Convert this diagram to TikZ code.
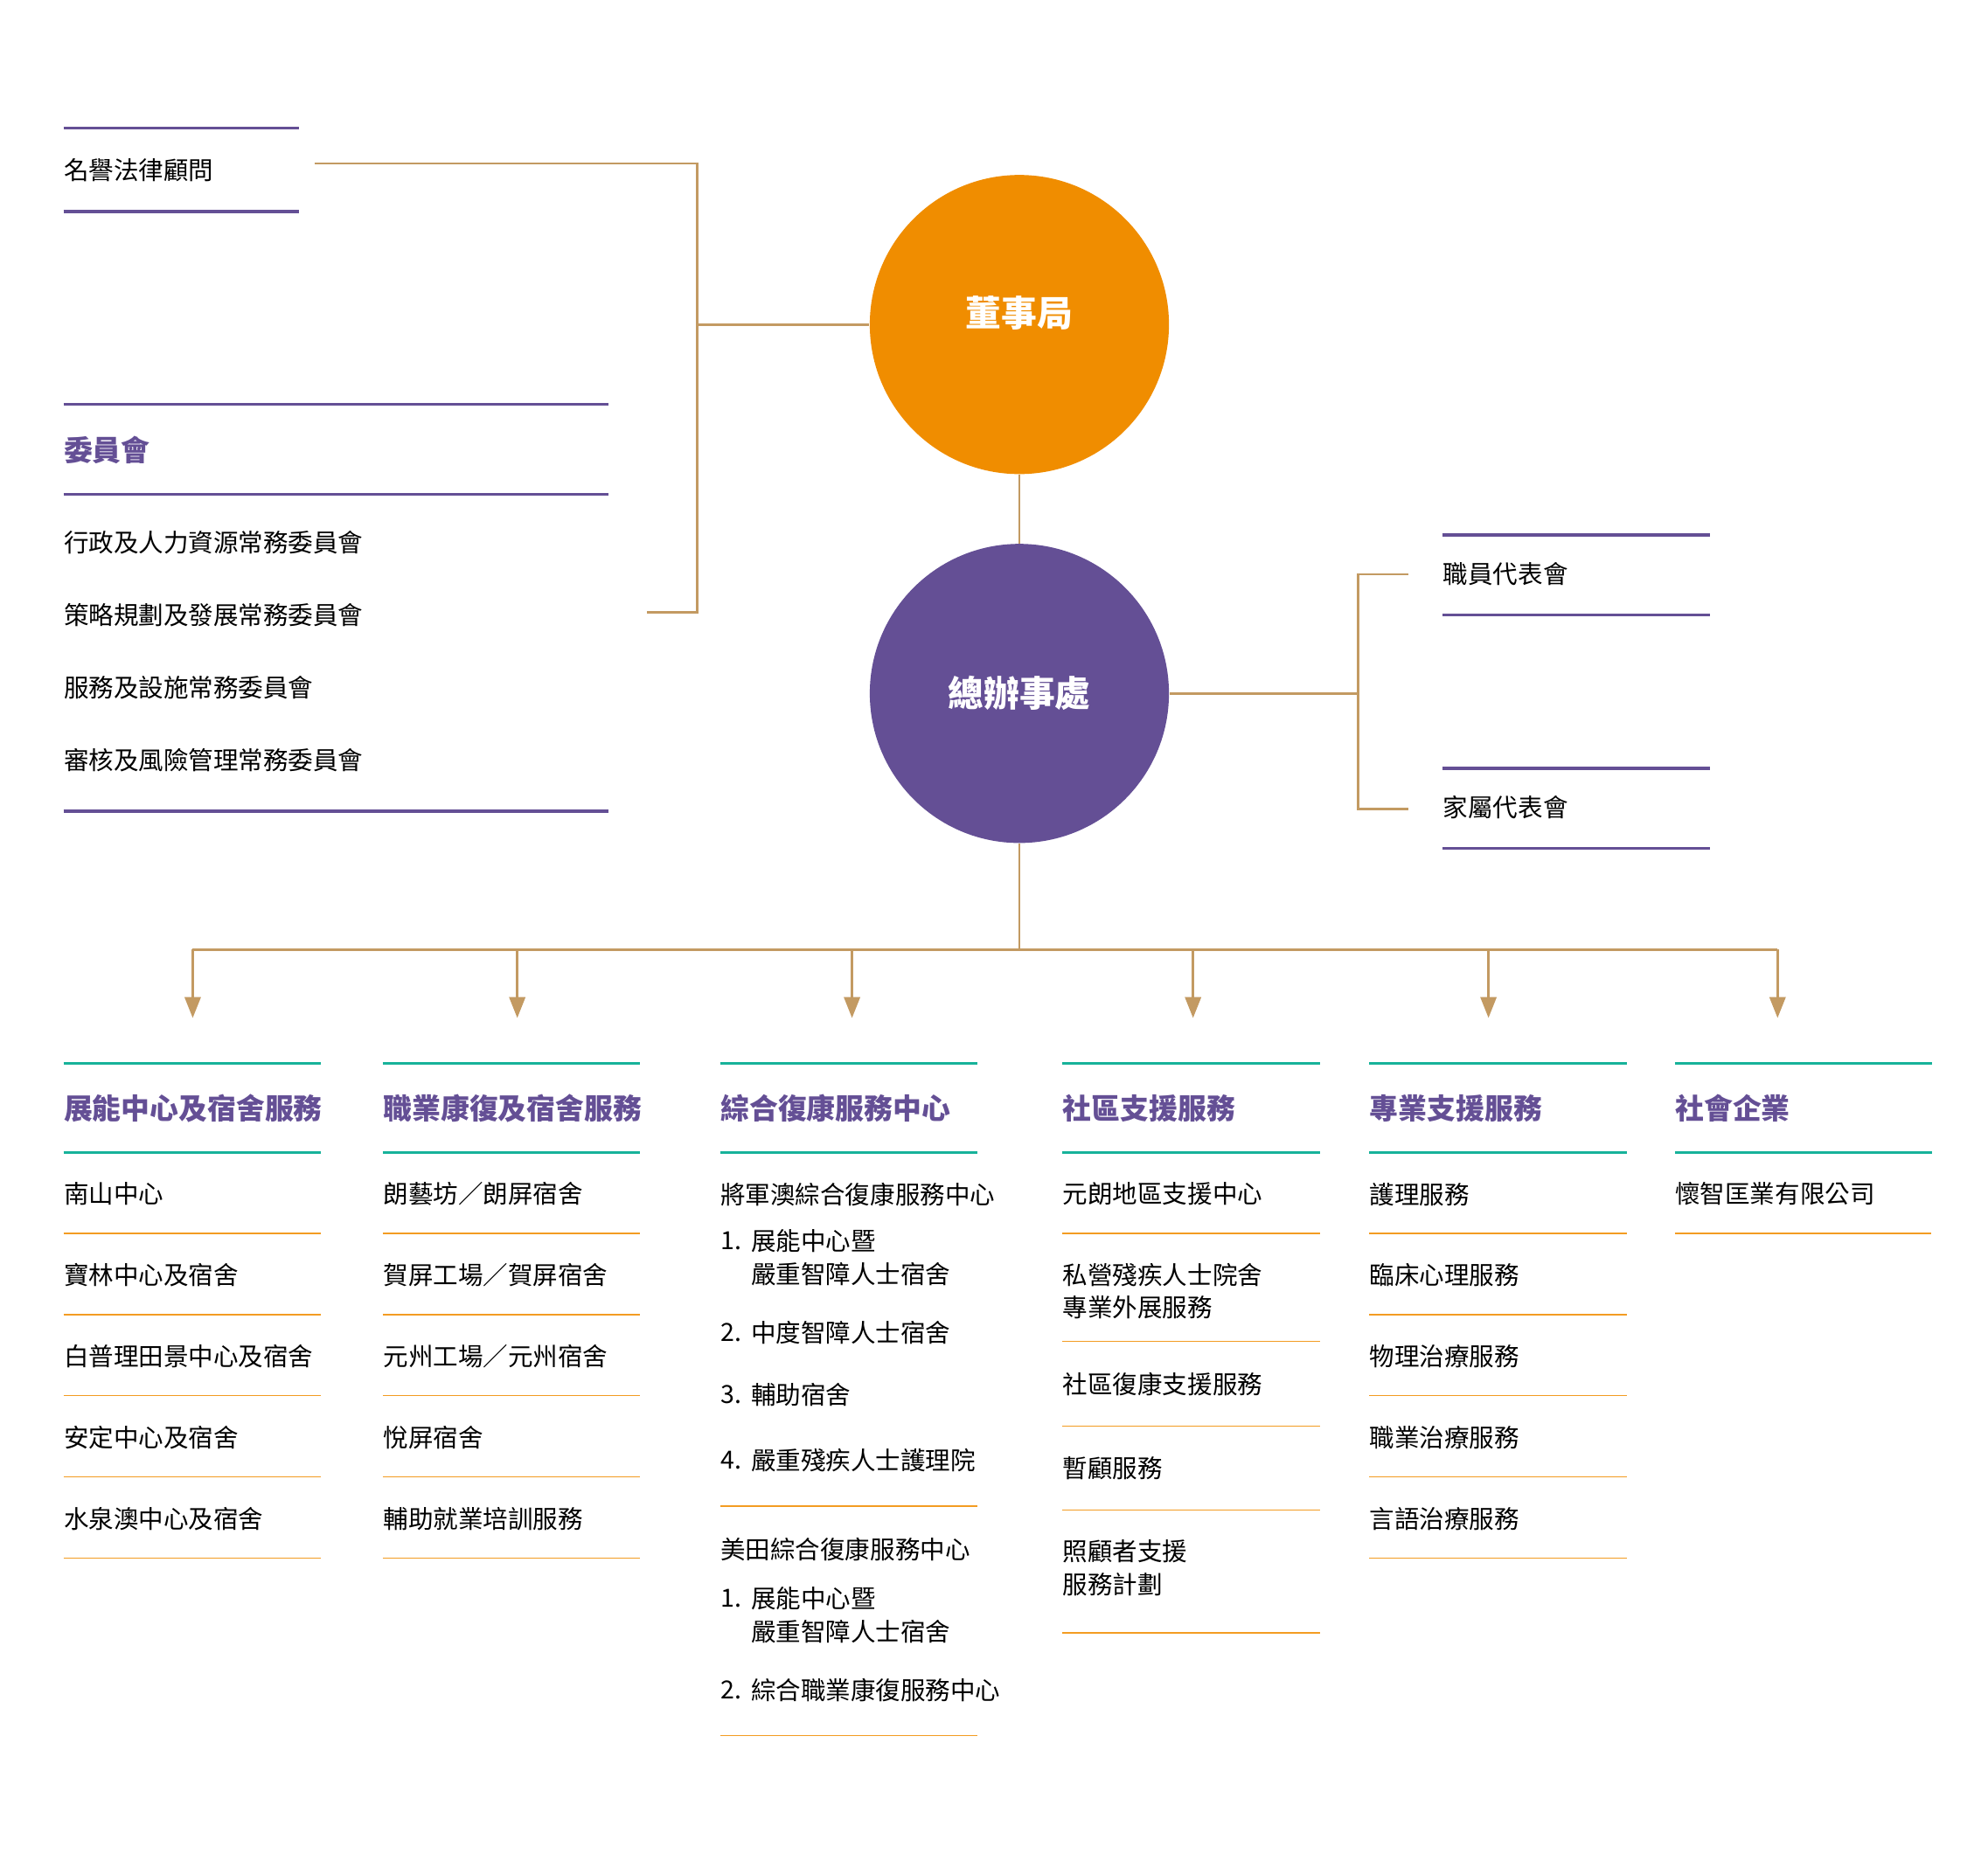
\documentclass[tikz,border=0pt]{standalone}
\usepackage{fontspec}
\setmainfont{Noto Sans CJK TC}
\usetikzlibrary{arrows.meta}
\definecolor{orgpurple}{HTML}{644F95}
\definecolor{orgorange}{HTML}{F08D00}
\definecolor{linktan}{HTML}{C39A62}
\definecolor{rulegreen}{HTML}{17B29A}
\definecolor{ruleorange}{HTML}{F39C22}

\begin{document}
\begin{tikzpicture}[x=0.02cm,y=-0.02cm,
    txt/.style={anchor=west,inner sep=0pt,align=left,font=\fontsize{11.2}{14.8}\selectfont},
    head/.style={anchor=west,inner sep=0pt,text=orgpurple,font=\fontsize{12.9}{15}\selectfont\bfseries},
    hub/.style={circle,minimum size=4.72cm,inner sep=0pt,text=white,font=\fontsize{16}{18}\selectfont\bfseries},
    purplerule/.style={orgpurple,line width=1.35pt},
    greenrule/.style={rulegreen,line width=1.2pt},
    thinrule/.style={ruleorange,line width=0.5pt},
    link/.style={linktan,line width=1pt}]
  \useasboundingbox (0,0) rectangle (1568,1479);

  % board and head office
  \node[hub,fill=orgorange,text height=0.88em,text depth=0.68em] (board) at (804,256) {董事局};
  \node[hub,fill=orgpurple] (office) at (804,547) {總辦事處};

  % honorary legal advisers
  \draw[purplerule] (50,101) -- (236,101) (50,167) -- (236,167);
  \node[txt] (legal) at (50,134) {名譽法律顧問};

  % committees
  \draw[purplerule] (50,319) -- (480,319) (50,390) -- (480,390) (50,640) -- (480,640);
  \node[head] (cmte) at (50,355) {委員會};
  \foreach \t [count=\i] in {行政及人力資源常務委員會,策略規劃及發展常務委員會,服務及設施常務委員會,審核及風險管理常務委員會}
    \node[txt] (cmte\i) at (50,370.7+57.3*\i) {\t};

  % staff / family representatives
  \draw[purplerule] (1138,422) -- (1349,422) (1138,485) -- (1349,485);
  \draw[purplerule] (1138,606) -- (1349,606) (1138,669) -- (1349,669);
  \node[txt] (staff) at (1138,453) {職員代表會};
  \node[txt] (family) at (1138,637) {家屬代表會};

  % connectors
  \coordinate (legal-end) at (248,129);
  \coordinate (cmte-end) at (510,483);
  \coordinate (left-jn) at (550,256);
  \draw[link] (legal-end) -| (left-jn) |- (cmte-end);
  \draw[link] (left-jn) -- (board);
  \draw[link] (board) -- (office);
  \coordinate (right-jn) at (1071,547);
  \coordinate (staff-end) at (1111,453);
  \coordinate (family-end) at (1111,638);
  \draw[link] (office) -- (right-jn);
  \draw[link] (staff-end) -| (right-jn) |- (family-end);
  \coordinate (down-jn) at (804,749);
  \draw[link] (office) -- (down-jn);

  % service columns
  \foreach \x/\h [count=\i] in {50/展能中心及宿舍服務,302/職業康復及宿舍服務,568/綜合復康服務中心,838/社區支援服務,1080/專業支援服務,1321/社會企業}{
    \draw[greenrule] (\x,839) -- +(203,0) (\x,909) -- +(203,0);
    \node[head] (head\i) at (\x,874) {\h};
  }
  \foreach \x [count=\i] in {152,408,672,941,1174,1402}{
    \coordinate (top\i) at (\x,749);
    \coordinate (tip\i) at (\x,803);
    \draw[link,-{Triangle[width=7.2pt,length=9.4pt]}] (top\i) -- (tip\i);
  }
  \draw[link] (top1) -- (top6);

  % column 1
  \foreach \t [count=\i] in {南山中心,寶林中心及宿舍,白普理田景中心及宿舍,安定中心及宿舍,水泉澳中心及宿舍}{
    \node[txt] (dev\i) at (50,878+64*\i) {\t};
    \draw[thinrule] (50,909+64*\i) -- (253,909+64*\i);
  }
  % column 2
  \foreach \t [count=\i] in {朗藝坊／朗屏宿舍,賀屏工場／賀屏宿舍,元州工場／元州宿舍,悅屏宿舍,輔助就業培訓服務}{
    \node[txt] (voc\i) at (302,878+64*\i) {\t};
    \draw[thinrule] (302,909+64*\i) -- (505,909+64*\i);
  }
  % column 3
  \node[txt] (tko) at (568,942) {將軍澳綜合復康服務中心};
  \node[txt] (tkon1) at (568,979) {1.};
  \node[txt] (tko1) at (592,992) {展能中心暨\\嚴重智障人士宿舍};
  \node[txt] (tkon2) at (568,1051) {2.};
  \node[txt] (tko2) at (592,1051) {中度智障人士宿舍};
  \node[txt] (tkon3) at (568,1100) {3.};
  \node[txt] (tko3) at (592,1100) {輔助宿舍};
  \node[txt] (tkon4) at (568,1152) {4.};
  \node[txt] (tko4) at (592,1152) {嚴重殘疾人士護理院};
  \draw[thinrule] (568,1188) -- (771,1188);
  \node[txt] (mt) at (568,1222) {美田綜合復康服務中心};
  \node[txt] (mtn1) at (568,1261) {1.};
  \node[txt] (mt1) at (592,1274) {展能中心暨\\嚴重智障人士宿舍};
  \node[txt] (mtn2) at (568,1333) {2.};
  \node[txt] (mt2) at (592,1333) {綜合職業康復服務中心};
  \draw[thinrule] (568,1369) -- (771,1369);
  % column 4
  \foreach \y/\t/\l [count=\i] in {942/元朗地區支援中心/973,1018.5/{私營殘疾人士院舍\\專業外展服務}/1058,1092/社區復康支援服務/1125,1158/暫顧服務/1191,1237/{照顧者支援\\服務計劃}/1288}{
    \node[txt] (comm\i) at (838,\y) {\t};
    \draw[thinrule] (838,\l) -- (1041,\l);
  }
  % column 5
  \foreach \t [count=\i] in {護理服務,臨床心理服務,物理治療服務,職業治療服務,言語治療服務}{
    \node[txt] (pro\i) at (1080,878+64*\i) {\t};
    \draw[thinrule] (1080,909+64*\i) -- (1283,909+64*\i);
  }
  % column 6
  \node[txt] (se1) at (1321,942) {懷智匡業有限公司};
  \draw[thinrule] (1321,973) -- (1523,973);
\end{tikzpicture}
\end{document}
